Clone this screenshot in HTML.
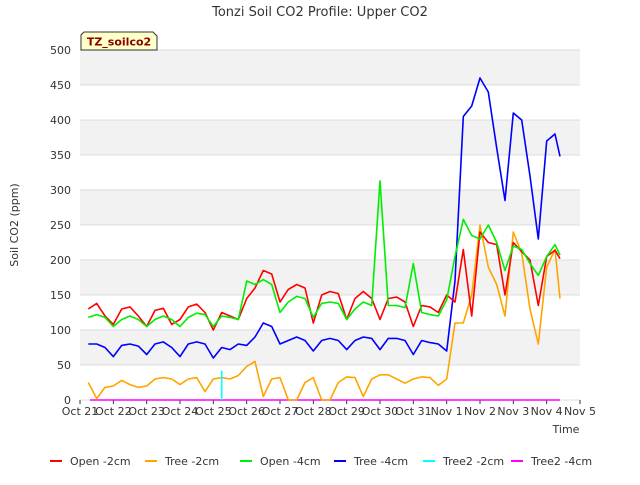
<!DOCTYPE html>
<html><head><meta charset="utf-8"><style>
body{margin:0;background:#fff;font-family:"Liberation Sans",sans-serif}
svg text{font-family:"DejaVu Sans","Liberation Sans",sans-serif}
</style></head><body>
<svg id="chart" width="640" height="480" xmlns="http://www.w3.org/2000/svg">
<text x="320" y="16" text-anchor="middle" font-size="13" fill="#333">Tonzi Soil CO2 Profile: Upper CO2</text>
<g id="bands"></g><g id="grid"></g><g id="axes"></g><g id="series"></g>
<text transform="translate(18,225) rotate(-90)" text-anchor="middle" font-size="11" fill="#333">Soil CO2 (ppm)</text>
<text x="566" y="433" text-anchor="middle" font-size="11" fill="#333">Time</text>
<g>
<path d="M84,32 L153,32 L157,36 L157,50 L81,50 L81,35 Z" fill="#ffffc8" stroke="#333" stroke-width="1"/>
<text x="119" y="45.5" text-anchor="middle" font-size="11" font-weight="bold" fill="#8b0000">TZ_soilco2</text>
</g>
<g id="legend"></g>
</svg>
<script>
const times=[0.25,0.5,0.75,1,1.25,1.5,1.75,2,2.25,2.5,2.75,3,3.25,3.5,3.75,4,4.25,4.5,4.75,5,5.25,5.5,5.75,6,6.25,6.5,6.75,7,7.25,7.5,7.75,8,8.25,8.5,8.75,9,9.25,9.5,9.75,10,10.25,10.5,10.75,11,11.25,11.5,11.75,12,12.25,12.5,12.75,13,13.25,13.5,13.75,14,14.25,14.4];
const open2=[130,138,120,108, 130,133,120,105, 128,131,108,115, 133,137,125,100, 125,120,115,145, 160,185,180,140, 158,165,160,110, 150,155,152,115, 145,155,145,115, 145,147,140,105, 135,133,125,150, 140,215,120,240, 225,222,150,225, 212,200,135,205, 214,202];
const tree2=[25,2,18,20, 28,22,18,20, 30,32,30,22, 30,32,12,30, 32,30,35,48, 55,5,30,32, 0,0,25,32, 0,0,25,33, 32,5,30,36, 36,30,24,30, 33,32,21,30, 110,110,150,250, 190,165,120,240, 210,130,80,190, 215,145];
const open4=[118,122,118,105, 115,120,115,105, 115,120,115,105, 118,124,122,105, 120,118,115,170, 165,172,165,125, 140,148,145,118, 138,140,138,115, 130,140,135,313, 135,135,132,195, 125,122,120,143, 205,258,235,230, 250,225,185,220, 215,195,178,205, 222,207];
const tree4=[80,80,75,62, 78,80,77,65, 80,83,75,62, 80,83,80,60, 75,72,80,78, 90,110,105,80, 85,90,85,70, 85,88,85,72, 85,90,88,72, 88,88,85,65, 85,82,80,70, 170,405,420,460, 440,360,285,410, 400,320,230,370, 380,348];
const t2_2Times=[4.25,4.25];
const t2_2=[0,42];
const t2_4Times=[0.3,14.4];
const t2_4=[0,0];
const xLabels=["Oct 21","Oct 22","Oct 23","Oct 24","Oct 25","Oct 26","Oct 27","Oct 28","Oct 29","Oct 30","Oct 31","Nov 1","Nov 2","Nov 3","Nov 4","Nov 5"];
const yTicks=[0,50,100,150,200,250,300,350,400,450,500];
const legendNames=["Open -2cm","Tree -2cm","Open -4cm","Tree -4cm","Tree2 -2cm","Tree2 -4cm"];
const colors=["#ff0000","#ffa500","#00ee00","#0000ff","#00ffff","#ff00ff"];

const NS="http://www.w3.org/2000/svg";
const X0=80,X1=580,Y0=400,Y1=50;
const xs=t=>X0+(X1-X0)*t/15;
const ys=v=>Y0-(Y0-Y1)*v/500;
function mk(tag,attrs,parent){const e=document.createElementNS(NS,tag);for(const k in attrs)e.setAttribute(k,attrs[k]);parent.appendChild(e);return e;}
const bands=document.getElementById('bands'),grid=document.getElementById('grid'),axes=document.getElementById('axes'),ser=document.getElementById('series'),leg=document.getElementById('legend');
for(let i=0;i<yTicks.length-1;i++){
  if(i%2===1){const r=mk('rect',{x:X0,y:ys(yTicks[i+1]),width:X1-X0,height:ys(yTicks[i])-ys(yTicks[i+1]),fill:'#f2f2f2'},bands);
  
  }
}
yTicks.forEach(v=>{
  const l=mk('line',{x1:X0,x2:X1,y1:ys(v),y2:ys(v),stroke:'#dcdcdc','stroke-width':1},grid);
  
  
  const t=mk('text',{x:X0-9,y:ys(v)+4,'text-anchor':'end','font-size':11,fill:'#333'},axes);t.textContent=v;
  
  
});
xLabels.forEach((s,i)=>{
  const tk=mk('line',{x1:xs(i),x2:xs(i),y1:Y0,y2:Y0+4,stroke:'#333'},axes);
  
  
  const t=mk('text',{x:xs(i),y:Y0+15,'text-anchor':'middle','font-size':11,fill:'#333'},axes);t.textContent=s;
  
  
});
function draw(tt,vals,c,name){
  const d=vals.map((v,i)=>(i?'L':'M')+xs(tt[i]).toFixed(1)+','+ys(v).toFixed(1)).join(' ');
  const p=mk('path',{d:d,fill:'none',stroke:c,'stroke-width':1.6,'stroke-linejoin':'round'},ser);
  
  
}
draw(t2_4Times,t2_4,colors[5],'series-tree2-4cm');
draw(times,tree2,colors[1],'series-tree-2cm');
draw(times,tree4,colors[3],'series-tree-4cm');
draw(times,open2,colors[0],'series-open-2cm');
draw(times,open4,colors[2],'series-open-4cm');
draw(t2_2Times,t2_2,colors[4],'series-tree2-2cm');
const lx=[50,145,240,334,423,511];
legendNames.forEach((n,i)=>{
  const g=mk('g',{},leg);
  
  
  mk('line',{x1:lx[i],x2:lx[i]+12,y1:461,y2:461,stroke:colors[i],'stroke-width':2},g);
  const t=mk('text',{x:lx[i]+20,y:465,'font-size':11,fill:'#333'},g);t.textContent=n;
});
</script>
</body></html>
